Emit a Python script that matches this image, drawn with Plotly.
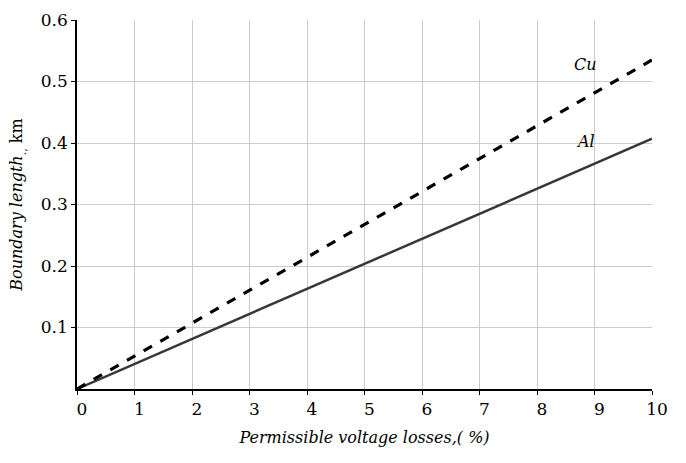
import plotly.graph_objects as go

x_vals = [0, 10]
cu_vals = [0, 0.535]
al_vals = [0, 0.407]
x_ticks = list(range(0, 11))
y_ticks = [0.1, 0.2, 0.3, 0.4, 0.5, 0.6]
y_tick_text = ["0.1", "0.2", "0.3", "0.4", "0.5", "0.6"]

font_family = "DejaVu Serif"

fig = go.Figure()
fig.add_trace(go.Scatter(x=x_vals, y=al_vals, mode="lines",
                         line=dict(color="#383838", width=2.5), showlegend=False))
fig.add_trace(go.Scatter(x=x_vals, y=cu_vals, mode="lines",
                         line=dict(color="#000000", width=3.2, dash="dash"), showlegend=False))

fig.add_annotation(x=8.85, y=0.527, text="<i>Cu</i>", showarrow=False,
                   font=dict(family=font_family, size=16, color="#000"))
fig.add_annotation(x=8.85, y=0.402, text="<i>Al</i>", showarrow=False,
                   font=dict(family=font_family, size=16, color="#000"))

fig.update_layout(
    width=686, height=463,
    margin=dict(l=77, r=34, t=10, b=74),
    paper_bgcolor="white", plot_bgcolor="white",
    font=dict(family=font_family, size=16, color="#000"),
    xaxis=dict(range=[0, 10], tickvals=x_ticks, showgrid=True, gridcolor="#cccccc", gridwidth=1,
               showline=True, linecolor="#000", linewidth=1.5, ticks="outside", ticklen=4,
               tickcolor="#000", zeroline=False, ticklabelshift=5,
               tickfont=dict(family=font_family, size=17),
               title=dict(text="<i>Permissible voltage losses,( %)</i>", standoff=14,
                          font=dict(family=font_family, size=16))),
    yaxis=dict(range=[0, 0.6], tickvals=y_ticks, ticktext=y_tick_text, showgrid=True,
               gridcolor="#cccccc", gridwidth=1, showline=True, linecolor="#000", linewidth=1.5,
               ticks="outside", ticklen=4, tickcolor="#000", zeroline=False,
               ticklabeloverflow="allow",
               tickfont=dict(family=font_family, size=17),
               title=dict(text="<i>Boundary length</i><sub>.,</sub> km", standoff=14,
                          font=dict(family=font_family, size=16))),
)

fig.write_html("out.html")
